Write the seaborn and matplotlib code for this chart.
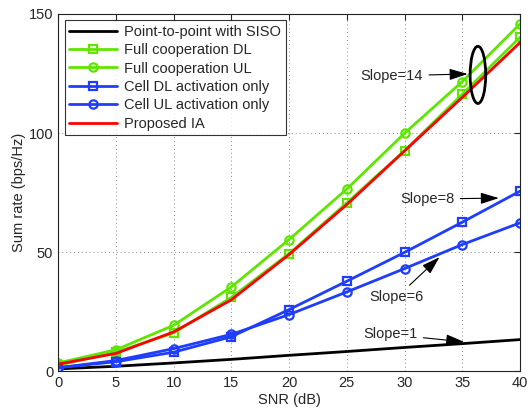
import matplotlib
matplotlib.use("Agg")
import matplotlib.pyplot as plt
import seaborn as sns
import pandas as pd
from matplotlib.patches import Ellipse

# values
snr_db = [0, 5, 10, 15, 20, 25, 30, 35, 40]
siso = [1.0, 2.1, 3.5, 5.0, 6.7, 8.3, 10.0, 11.6, 13.3]
full_dl = [2.5, 8.0, 16.1, 31.0, 49.4, 70.7, 92.6, 116.3, 140.2]
full_ul = [3.5, 9.0, 19.3, 35.4, 55.3, 76.5, 99.9, 121.6, 145.8]
cell_dl = [1.5, 4.0, 8.0, 14.5, 25.9, 37.8, 49.9, 62.6, 75.6]
cell_ul = [1.5, 4.5, 9.5, 15.5, 23.8, 33.3, 43.1, 53.2, 62.3]
proposed = [3.0, 7.5, 16.5, 30.0, 49.0, 70.0, 92.5, 115.0, 138.0]

labels = ["Point-to-point with SISO", "Full cooperation DL", "Full cooperation UL",
          "Cell DL activation only", "Cell UL activation only", "Proposed IA"]
series = [siso, full_dl, full_ul, cell_dl, cell_ul, proposed]
green = "#5fe600"
blue = "#1f3dff"
colors = ["black", green, green, blue, blue, "red"]
markers = [None, "s", "o", "s", "o", None]

sns.set_style("white")
plt.rcParams["font.family"] = ["Liberation Sans", "DejaVu Sans"]
fs = 10.5

fig = plt.figure(figsize=(5.28, 4.08), dpi=100)
ax = fig.add_axes([0.11, 0.09, 0.875, 0.876])

for lab, vals, col, mk in zip(labels, series, colors, markers):
    df = pd.DataFrame({"SNR": snr_db, "rate": vals})
    kw = {}
    if mk is not None:
        kw = dict(marker=mk, markersize=6, markerfacecolor="none",
                  markeredgecolor=col, markeredgewidth=1.6)
    sns.lineplot(data=df, x="SNR", y="rate", ax=ax, color=col, linewidth=2.0,
                 label=lab, **kw)

ax.set_xlim(0, 40)
ax.set_ylim(0, 150)
ax.set_xticks(range(0, 41, 5))
ax.set_yticks([0, 50, 100, 150])
ax.set_xlabel("SNR (dB)", fontsize=fs, labelpad=2)
ax.set_ylabel("Sum rate (bps/Hz)", fontsize=fs, labelpad=2)
ax.tick_params(direction="in", top=True, right=True, labelsize=fs, length=4, width=0.8)
ax.grid(True, linestyle=(0, (1, 3)), color="#888888", linewidth=0.7)
for sp in ax.spines.values():
    sp.set_linewidth(0.8)
    sp.set_color("#222222")

leg = ax.legend(loc="upper left", fontsize=fs, handlelength=3.3, frameon=True,
                fancybox=False, edgecolor="black", borderpad=0.3,
                labelspacing=0.3, borderaxespad=0.45, handletextpad=0.5)
leg.get_frame().set_linewidth(0.8)

# ellipse around the full cooperation lines
ax.add_patch(Ellipse((36.35, 124.4), 1.35, 24, fill=False, edgecolor="black",
                     linewidth=2, zorder=5))

arrow = dict(arrowstyle="-|>,head_length=0.8,head_width=0.25", color="black",
             lw=0.8, mutation_scale=14)
ax.annotate("Slope=14", xy=(35.7, 124.8), xytext=(31.6, 124), ha="right",
            va="center", fontsize=fs, arrowprops=arrow)
ax.annotate("Slope=8", xy=(38.4, 72.7), xytext=(34.3, 72.3), ha="right",
            va="center", fontsize=fs, arrowprops=arrow)
ax.annotate("Slope=6", xy=(33.2, 48.7), xytext=(29.3, 31.0), ha="center",
            va="center", fontsize=fs, arrowprops=arrow)
ax.annotate("Slope=1", xy=(35.4, 12.2), xytext=(31.1, 15.5), ha="right",
            va="center", fontsize=fs, arrowprops=arrow)

fig.savefig("out.png", dpi=100)
